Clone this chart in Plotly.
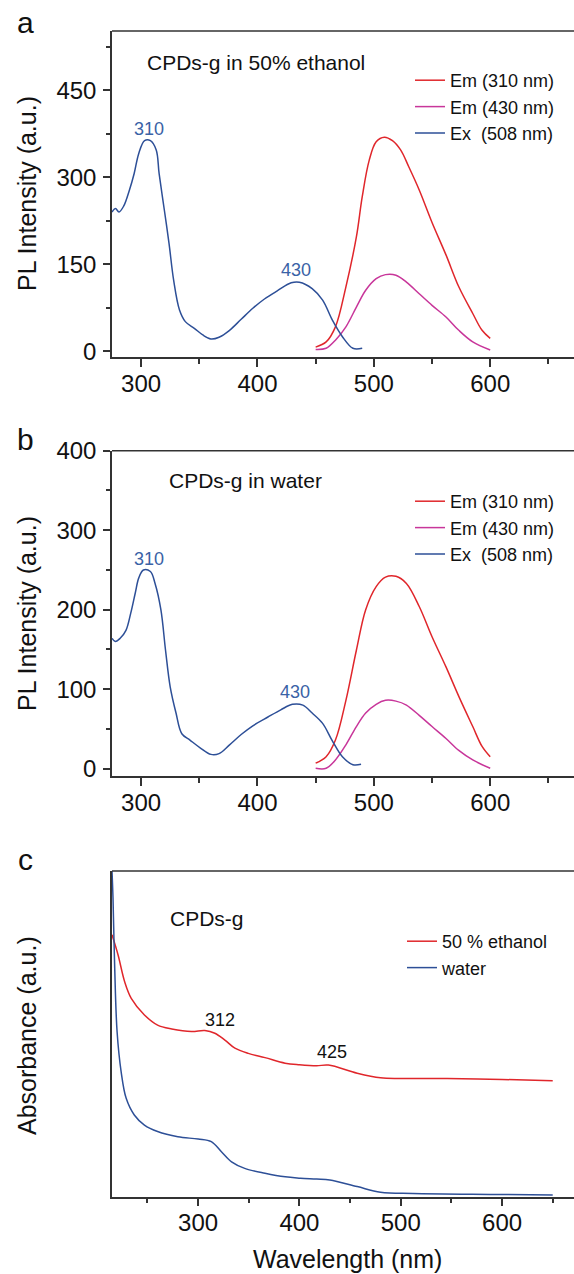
import plotly.graph_objects as go

# ---------------- data ----------------
# Panel a: CPDs-g in 50% ethanol
a_ex_wl = [275, 278, 281, 285, 290, 294, 298, 303, 308, 313, 315.5, 320, 324, 328, 333, 338, 346, 353, 360, 367,
           376, 386, 396, 406, 417, 429, 436, 447, 456, 464.5, 473, 482, 490]
a_ex_val = [240, 246, 240, 250, 278, 306, 341, 363, 363, 347, 306, 243, 186, 122, 71, 51, 39, 28, 21, 24,
            36, 55, 74, 90, 104, 118, 119, 108, 88, 53, 25, 5, 5]
a_em310_wl = [450, 459, 467, 476, 485, 490, 496, 502, 509, 516, 523, 530, 539, 550, 562, 573, 585, 593, 600]
a_em310_val = [7, 16, 42, 111, 197, 266, 329, 361, 369, 363, 347, 318, 278, 222, 166, 111, 65, 36, 22]
a_em430_wl = [450, 459, 467, 476, 485, 493, 502, 510, 519, 528, 539, 550, 562, 573, 585, 600]
a_em430_val = [3, 5, 19, 42, 76, 105, 125, 132, 131, 119, 99, 79, 59, 36, 16, 2]

# Panel b: CPDs-g in water
b_ex_wl = [275, 278, 282, 287, 291, 295, 298, 302, 308, 312, 317, 321, 325, 330, 335, 342, 351, 360, 367, 376,
           386, 396, 409, 420, 430, 439, 447, 456, 464, 473, 482, 489]
b_ex_val = [164, 160, 164, 174, 195, 221, 240, 250, 248, 233, 200, 149, 103, 70, 44, 36, 26, 18, 19, 30,
            43, 54, 65, 74, 81, 80, 70, 57, 36, 15, 5, 5.5]
b_em310_wl = [450, 459, 467, 476, 485, 493, 502, 510, 519, 528, 539, 550, 562, 573, 585, 593, 600]
b_em310_val = [7, 15, 36, 86, 149, 200, 229, 241, 242, 233, 204, 166, 128, 91, 53, 28, 15]
b_em430_wl = [450, 459, 467, 476, 485, 493, 502, 510, 519, 528, 539, 550, 562, 573, 585, 600]
b_em430_val = [0.5, 0.5, 11, 30, 53, 70, 81, 86, 85, 80, 67, 53, 38, 23, 11, 0.5]

# Panel c: absorbance
c_water_wl = [215, 216, 217.6, 220, 224, 229, 237, 247, 260, 280, 300, 313, 323, 333, 346, 366, 386, 401,
              417, 430, 457, 480, 512, 600, 650]
c_water_val = [1.0, 0.917, 0.711, 0.507, 0.384, 0.302, 0.251, 0.220, 0.200, 0.184, 0.177, 0.169, 0.138, 0.107,
               0.087, 0.072, 0.061, 0.057, 0.054, 0.051, 0.031, 0.014, 0.010, 0.007, 0.005]
c_eth_wl = [215, 221, 227.5, 234, 247, 260, 274, 293.5, 306.6, 316.5, 326.4, 336.3, 349.5, 366, 385.8, 400,
            417, 428.6, 457, 480, 499.5, 545.7, 600, 650]
c_eth_val = [0.804, 0.742, 0.660, 0.609, 0.558, 0.527, 0.515, 0.507, 0.510, 0.502, 0.481, 0.456, 0.440, 0.427,
             0.410, 0.405, 0.402, 0.404, 0.379, 0.365, 0.363, 0.363, 0.360, 0.356]

em310_name = "Em (310 nm)"
em430_name = "Em (430 nm)"
ex_name = "Ex\u00a0 (508 nm)"

# ---------------- style ----------------
RED = "#E0262B"
MAG = "#C8369A"
BLUE = "#2D4F97"
LBLUE = "#3A62A6"
AX = "#333333"
FONT = "Liberation Sans, Arial, sans-serif"
W, H = 574, 1274


def px(x):
    return x / W


def py(y):
    return 1 - y / H


fig = go.Figure()


def line(x, y, name, color, xa, ya, legend):
    fig.add_trace(go.Scatter(x=x, y=y, name=name, mode="lines", xaxis=xa, yaxis=ya, legend=legend,
                             line=dict(color=color, width=1.5, shape="spline", smoothing=1.0)))


line(a_em310_wl, a_em310_val, em310_name, RED, "x", "y", "legend")
line(a_em430_wl, a_em430_val, em430_name, MAG, "x", "y", "legend")
line(a_ex_wl, a_ex_val, ex_name, BLUE, "x", "y", "legend")
line(b_em310_wl, b_em310_val, em310_name, RED, "x2", "y2", "legend2")
line(b_em430_wl, b_em430_val, em430_name, MAG, "x2", "y2", "legend2")
line(b_ex_wl, b_ex_val, ex_name, BLUE, "x2", "y2", "legend2")
line(c_eth_wl, c_eth_val, "50 % ethanol", RED, "x3", "y3", "legend3")
line(c_water_wl, c_water_val, "water", BLUE, "x3", "y3", "legend3")

tickfont = dict(family=FONT, size=24, color="#111")
axcommon = dict(showline=True, linecolor=AX, linewidth=1.5, showgrid=False, zeroline=False, automargin=False,
                ticks="outside", tickcolor=AX, tickwidth=1.5, ticklen=8, tickfont=tickfont)


def xaxis(rng, anchor, tick0, minor0):
    return dict(axcommon, domain=[px(112), 1.0], range=rng, anchor=anchor, mirror=False,
                tick0=tick0, dtick=100, ticklabelstandoff=-4,
                minor=dict(dtick=50, tick0=minor0, ticks="outside", ticklen=5, tickcolor=AX, tickwidth=1.5))


def yaxis(top, bottom, rng, anchor, dtick, minor_d, showlabels=True):
    d = dict(axcommon, domain=[py(bottom), py(top)], range=rng, anchor=anchor, mirror=False,
             tick0=0, dtick=dtick, ticklen=7, ticklabelstandoff=2)
    if showlabels:
        d["minor"] = dict(dtick=minor_d, tick0=0, ticks="outside", ticklen=4, tickcolor=AX, tickwidth=1.5)
    else:
        d["ticks"] = ""
        d["showticklabels"] = False
    return d


fig.update_layout(
    template="none",
    width=W, height=H, margin=dict(l=0, r=0, t=0, b=0, autoexpand=False),
    paper_bgcolor="white", plot_bgcolor="white",
    font=dict(family=FONT, color="#111"),
    xaxis=xaxis([275, 672], "y", 300, 300),
    yaxis=yaxis(31, 357, [-10, 552], "x", 150, 75),
    xaxis2=xaxis([275, 672], "y2", 300, 300),
    yaxis2=yaxis(450.7, 776, [-9.2, 400], "x2", 100, 50),
    xaxis3=xaxis([215, 671], "y3", 300, 250),
    yaxis3=yaxis(871, 1196.7, [0, 1], "x3", 1, 1, showlabels=False),
)

# top border lines of each panel
for top in (31, 450.7, 871):
    fig.add_shape(type="line", xref="paper", yref="paper", x0=px(112), x1=1.0, y0=py(top), y1=py(top),
                  line=dict(color=AX, width=1.5))

legfont = dict(family=FONT, size=18, color="#111")
legcommon = dict(font=legfont, bgcolor="rgba(0,0,0,0)", borderwidth=0, xanchor="left", yanchor="top",
                 itemclick=False, tracegroupgap=0)
fig.update_layout(
    legend=dict(legcommon, x=px(410), y=py(62)),
    legend2=dict(legcommon, x=px(410), y=py(483)),
    legend3=dict(legcommon, x=px(402), y=py(923)),
)

ann = []


def txt(text, x, y, size, color="#111", xref="paper", yref="paper", xanchor="center", angle=0):
    ann.append(dict(text=text, x=x, y=y, xref=xref, yref=yref, xanchor=xanchor, yanchor="middle",
                    showarrow=False, textangle=angle, font=dict(family=FONT, size=size, color=color)))


# panel letters
txt("a", px(25), py(22), 30)
txt("b", px(25), py(439), 30)
txt("c", px(25), py(859), 30)
# axis titles
txt("PL Intensity (a.u.)", px(27), py(194), 25, angle=-90)
txt("PL Intensity (a.u.)", px(27), py(614), 25, angle=-90)
txt("Absorbance (a.u.)", px(27), py(1036), 25, angle=-90)
txt("Wavelength (nm)", px(347), py(1259), 25)
# in-plot labels
txt("CPDs-g in 50% ethanol", 303.4, 498, 21, xref="x", yref="y", xanchor="left")
txt("310", 307, 383, 18, LBLUE, xref="x", yref="y")
txt("430", 433, 140, 18, LBLUE, xref="x", yref="y")
txt("CPDs-g in water", 322, 362, 21, xref="x2", yref="y2", xanchor="left")
txt("310", 307, 264, 18, LBLUE, xref="x2", yref="y2")
txt("430", 432, 96.5, 18, LBLUE, xref="x2", yref="y2")
txt("CPDs-g", 270, 0.855, 21, xref="x3", yref="y3", xanchor="left")
txt("312", 322, 0.543, 18, xref="x3", yref="y3")
txt("425", 432, 0.444, 18, xref="x3", yref="y3")
fig.update_layout(annotations=ann)

fig.write_html("out.html")
